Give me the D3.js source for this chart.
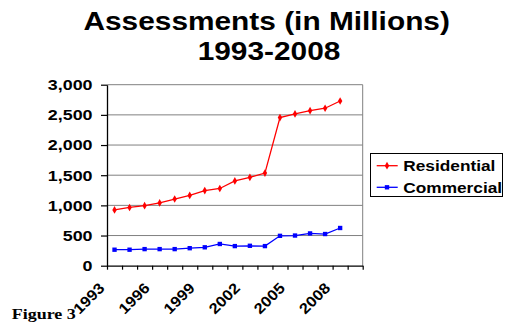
<!DOCTYPE html>
<html>
<head>
<meta charset="utf-8">
<script src="https://cdn.jsdelivr.net/npm/d3@7"></script>
<style>
  html, body { margin: 0; padding: 0; background: #fff; }
  svg { display: block; }
</style>
</head>
<body>
<svg id="chart" width="505" height="327"></svg>
<script>
// Assessed values (in millions), 1993-2008; the axis carries one extra empty year
const years = ["1993","1994","1995","1996","1997","1998","1999","2000","2001",
               "2002","2003","2004","2005","2006","2007","2008","2009"];
const residential = [925, 965, 995, 1040, 1105, 1165, 1245, 1280, 1405, 1465,
                     1535, 2455, 2515, 2570, 2610, 2730];
const commercial  = [265, 265, 275, 275, 275, 290, 305, 360, 325, 330,
                     325, 495, 500, 535, 525, 625];
const yearLabels = ["1993", "1996", "1999", "2002", "2005", "2008"];
const yTicks = [0, 500, 1000, 1500, 2000, 2500, 3000];
const seriesNames = ["Residential", "Commercial"];
const seriesColors = ["#ff0000", "#0000ff"];

const FONT = "'Liberation Sans', Arial, Helvetica, sans-serif";
const STRETCH = 1.19; // glyphs are drawn a little wider than their natural width

const svg = d3.select("#chart");
const plotL = 107, plotR = 362.7, plotT = 84.7, plotB = 265.7;

const x = d3.scaleBand().domain(years).range([plotL, plotR]).padding(0);
const xEdges = d3.scaleLinear().domain([0, years.length]).range([plotL, plotR]);
const y = d3.scaleLinear().domain([0, 3000]).range([plotB, plotT]);

function widen(sel, factor) {
  sel.each(function () {
    const len = this.getComputedTextLength();
    d3.select(this).attr("textLength", len * factor).attr("lengthAdjust", "spacingAndGlyphs");
  });
}

// Title
const title = svg.append("g")
  .attr("font-family", FONT).attr("font-weight", "bold").attr("font-size", 25.5)
  .attr("text-anchor", "middle").attr("fill", "#000");
title.append("text").attr("x", 266.7).attr("y", 30).text("Assessments (in Millions)");
title.append("text").attr("x", 269).attr("y", 60).text("1993-2008");
widen(title.selectAll("text"), 1.17);

// Gridlines
svg.append("g")
  .selectAll("line")
  .data(yTicks.filter(d => d > 0))
  .join("line")
  .attr("x1", plotL).attr("x2", plotR)
  .attr("y1", d => y(d)).attr("y2", d => y(d))
  .attr("stroke", "#808080").attr("stroke-width", 1);

// Right border of the plot area
svg.append("line")
  .attr("x1", plotR).attr("x2", plotR).attr("y1", plotT).attr("y2", plotB)
  .attr("stroke", "#808080").attr("stroke-width", 1);

// Y axis
const yAxis = svg.append("g")
  .attr("transform", `translate(${plotL},0)`)
  .call(d3.axisLeft(y).tickValues(yTicks).tickFormat(d3.format(","))
        .tickSize(6).tickPadding(8.5).tickSizeOuter(0));
yAxis.select(".domain").attr("stroke", "#000").attr("stroke-width", 1.3);
yAxis.selectAll(".tick line").attr("stroke", "#000").attr("stroke-width", 1.2);
yAxis.selectAll("text")
  .attr("font-family", FONT).attr("font-weight", "bold").attr("font-size", 15)
  .attr("fill", "#000");
widen(yAxis.selectAll("text"), STRETCH);

// X axis: tick marks on category boundaries
const xAxis = svg.append("g")
  .attr("transform", `translate(0,${plotB})`)
  .call(d3.axisBottom(xEdges).tickValues(d3.range(years.length + 1))
        .tickFormat("").tickSize(4).tickSizeOuter(0));
xAxis.select(".domain").attr("stroke", "#000").attr("stroke-width", 1.3);
xAxis.selectAll(".tick line").attr("stroke", "#000").attr("stroke-width", 1.2);

// Rotated year labels
const xLabels = svg.append("g")
  .attr("font-family", FONT).attr("font-weight", "bold").attr("font-size", 15)
  .attr("text-anchor", "end").attr("fill", "#000");
xLabels.selectAll("text")
  .data(yearLabels)
  .join("text")
  .attr("transform", d => `translate(${x(d) + x.bandwidth() / 2 - 9},289) rotate(-45)`)
  .text(d => d);
widen(xLabels.selectAll("text"), 1.1);

// Series lines and markers
const cx = (d, i) => x(years[i]) + x.bandwidth() / 2;
const lineGen = d3.line().x((d, i) => cx(d, i)).y(d => y(d));
const diamond = d3.symbol().type(d3.symbolDiamond).size(17);
const square = d3.symbol().type(d3.symbolSquare).size(19);

[commercial, residential].forEach((vals, k) => {
  const idx = k === 0 ? 1 : 0;
  const color = seriesColors[idx];
  const g = svg.append("g");
  g.append("path").datum(vals)
    .attr("d", lineGen).attr("fill", "none")
    .attr("stroke", color).attr("stroke-width", 1.3);
  g.selectAll("path.mk").data(vals).join("path").attr("class", "mk")
    .attr("transform", (d, i) => `translate(${cx(d, i)},${y(d)})`)
    .attr("d", idx === 0 ? diamond : square)
    .attr("fill", color);
});

// Legend
const legend = svg.append("g");
legend.append("rect")
  .attr("x", 370.5).attr("y", 153.5).attr("width", 132).attr("height", 43)
  .attr("fill", "#fff").attr("stroke", "#000").attr("stroke-width", 1);
const rows = legend.selectAll("g.row")
  .data(seriesNames)
  .join("g").attr("class", "row")
  .attr("transform", (d, i) => `translate(0,${i === 0 ? 165.7 : 187.3})`);
rows.append("line")
  .attr("x1", 376.7).attr("x2", 397.7).attr("y1", 0).attr("y2", 0)
  .attr("stroke", (d, i) => seriesColors[i]).attr("stroke-width", 1.3);
rows.append("path")
  .attr("transform", "translate(387,0)")
  .attr("d", (d, i) => (i === 0 ? diamond : square)())
  .attr("fill", (d, i) => seriesColors[i]);
rows.append("text")
  .attr("x", 403.3).attr("y", 5.2)
  .attr("font-family", FONT).attr("font-weight", "bold").attr("font-size", 14.5)
  .attr("fill", "#000")
  .text(d => d);
widen(rows.selectAll("text"), STRETCH);

// Figure caption
const cap = svg.append("text")
  .attr("x", 11.7).attr("y", 319)
  .attr("font-family", "'Liberation Serif', 'Times New Roman', serif")
  .attr("font-weight", "bold").attr("font-size", 15).attr("fill", "#000")
  .text("Figure 3");
widen(cap, 1.2);
</script>
</body>
</html>
